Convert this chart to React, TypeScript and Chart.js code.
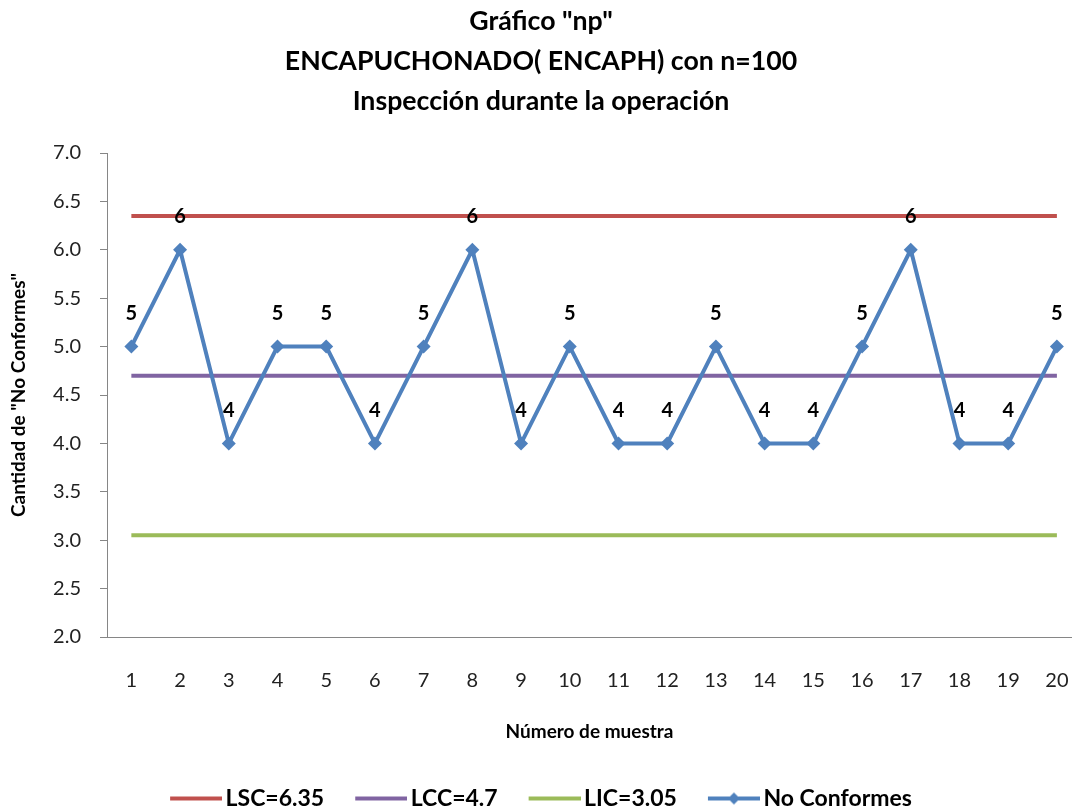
import React, { useEffect, useRef } from 'react';
import { Chart, registerables } from 'chart.js';
Chart.register(...registerables);

const samples = [1, 2, 3, 4, 5, 6, 7, 8, 9, 10, 11, 12, 13, 14, 15, 16, 17, 18, 19, 20];
const noConformes = [5, 6, 4, 5, 5, 4, 5, 6, 4, 5, 4, 4, 5, 4, 4, 5, 6, 4, 4, 5];
const LSC = 6.35;
const LCC = 4.7;
const LIC = 3.05;
const seriesNames = ['LSC=6.35', 'LCC=4.7', 'LIC=3.05', 'No Conformes'];
const titleLines = ['Gráfico "np"', 'ENCAPUCHONADO( ENCAPH) con n=100', 'Inspección durante la operación'];
const yAxisTitle = 'Cantidad de "No Conformes"';
const xAxisTitle = 'Número de muestra';

const FONT = 'Lato';
const RED = '#C0504D';
const PURPLE = '#8064A2';
const GREEN = '#9BBB59';
const BLUE = '#4F81BD';

// legend swatch: image wider than the legend box so the line reaches close to the text
function legendSwatch(color: string, diamond: boolean) {
  const c = document.createElement('canvas');
  c.width = 60;
  c.height = 16;
  const g = c.getContext('2d')!;
  g.strokeStyle = color;
  g.lineWidth = 4;
  g.beginPath();
  g.moveTo(8, 8);
  g.lineTo(60, 8);
  g.stroke();
  if (diamond) {
    g.fillStyle = color;
    g.beginPath();
    g.moveTo(34, 2);
    g.lineTo(40, 8);
    g.lineTo(34, 14);
    g.lineTo(28, 8);
    g.closePath();
    g.fill();
  }
  return c;
}

const pointLabels = {
  id: 'pointLabels',
  afterDatasetsDraw(chart: any) {
    const meta = chart.getDatasetMeta(3);
    const ctx = chart.ctx;
    ctx.save();
    ctx.font = `bold 20px ${FONT}`;
    ctx.fillStyle = '#000';
    ctx.textAlign = 'center';
    ctx.textBaseline = 'middle';
    meta.data.forEach((el: any, i: number) => {
      ctx.fillText(String(noConformes[i]), el.x, el.y - 33);
    });
    ctx.restore();
  },
};

export default function App() {
  const ref = useRef<HTMLCanvasElement | null>(null);
  useEffect(() => {
    const swatches = [
      legendSwatch(RED, false),
      legendSwatch(PURPLE, false),
      legendSwatch(GREEN, false),
      legendSwatch(BLUE, true),
    ];
    const line = (label: string, value: number, color: string, order: number) => ({
      label,
      data: samples.map((s) => ({ x: s, y: value })),
      borderColor: color,
      backgroundColor: color,
      borderWidth: 4,
      pointRadius: 0,
      order,
    });
    const chart = new Chart(ref.current!, {
      type: 'line',
      data: {
        datasets: [
          line(seriesNames[0], LSC, RED, 3),
          line(seriesNames[1], LCC, PURPLE, 2),
          line(seriesNames[2], LIC, GREEN, 1),
          {
            label: seriesNames[3],
            data: samples.map((s, i) => ({ x: s, y: noConformes[i] })),
            borderColor: BLUE,
            backgroundColor: BLUE,
            borderWidth: 4,
            pointStyle: 'rectRot',
            pointRadius: 7,
            pointBorderWidth: 0,
            order: 0,
          },
        ],
      },
      options: {
        animation: false,
        responsive: true,
        maintainAspectRatio: false,
        layout: { autoPadding: false, padding: { left: 0, right: -10, top: 0, bottom: -8 } },
        plugins: {
          tooltip: { enabled: false },
          title: {
            display: true,
            text: titleLines,
            color: '#000',
            font: { family: FONT, size: 26.7, weight: 'bold', lineHeight: 40 / 26.7 },
            padding: { top: 1, bottom: 32 },
          },
          legend: {
            position: 'bottom',
            labels: {
              color: '#000',
              font: { family: FONT, size: 23, weight: 'bold', lineHeight: 1 },
              usePointStyle: true,
              pointStyleWidth: 44,
              boxHeight: 16,
              padding: 31,
              generateLabels: (chart: any) => {
                return chart.data.datasets.map((ds: any, i: number) => ({
                  text: ds.label,
                  datasetIndex: i,
                  pointStyle: swatches[i],
                  fillStyle: ds.borderColor,
                  strokeStyle: ds.borderColor,
                  lineWidth: 0,
                  hidden: false,
                  fontColor: '#000',
                }));
              },
            },
          },
        },
        scales: {
          x: {
            type: 'linear',
            min: 0.5,
            max: 20.31,
            afterBuildTicks: (scale: any) => {
              scale.ticks = samples.map((v) => ({ value: v }));
            },
            afterFit: (scale: any) => {
              scale.height = 119;
              scale.paddingLeft = 0;
              scale.paddingRight = 0;
            },
            grid: { display: false, drawTicks: false },
            border: { display: true, color: '#868686', width: 1 },
            ticks: {
              color: '#222',
              font: { family: FONT, size: 20 },
              padding: 32,
              maxRotation: 0,
              autoSkip: false,
              callback: (v: any) => String(v),
            },
            title: {
              display: true,
              text: xAxisTitle,
              color: '#000',
              font: { family: FONT, size: 19, weight: 'bold', lineHeight: 1.2 },
              padding: { top: 0, bottom: 13 },
            },
          },
          y: {
            min: 2,
            max: 7,
            afterFit: (scale: any) => {
              scale.width = 107;
            },
            grid: {
              display: true,
              drawOnChartArea: false,
              drawTicks: true,
              tickLength: 7,
              color: '#868686',
            },
            border: { display: true, color: '#868686', width: 1 },
            ticks: {
              stepSize: 0.5,
              color: '#222',
              font: { family: FONT, size: 20 },
              padding: 19,
              callback: (v: any) => Number(v).toFixed(1),
            },
            title: {
              display: true,
              text: yAxisTitle,
              color: '#000',
              font: { family: FONT, size: 19, weight: 'bold', lineHeight: 1.2 },
              padding: { top: 7, bottom: 0 },
            },
          },
        },
      },
      plugins: [pointLabels],
    } as any);
    return () => chart.destroy();
  }, []);
  return (
    <div style={{ position: 'absolute', left: 0, top: 0, width: 1072, height: 812, background: '#fff', overflow: 'hidden' }}>
      <canvas ref={ref} />
    </div>
  );
}
